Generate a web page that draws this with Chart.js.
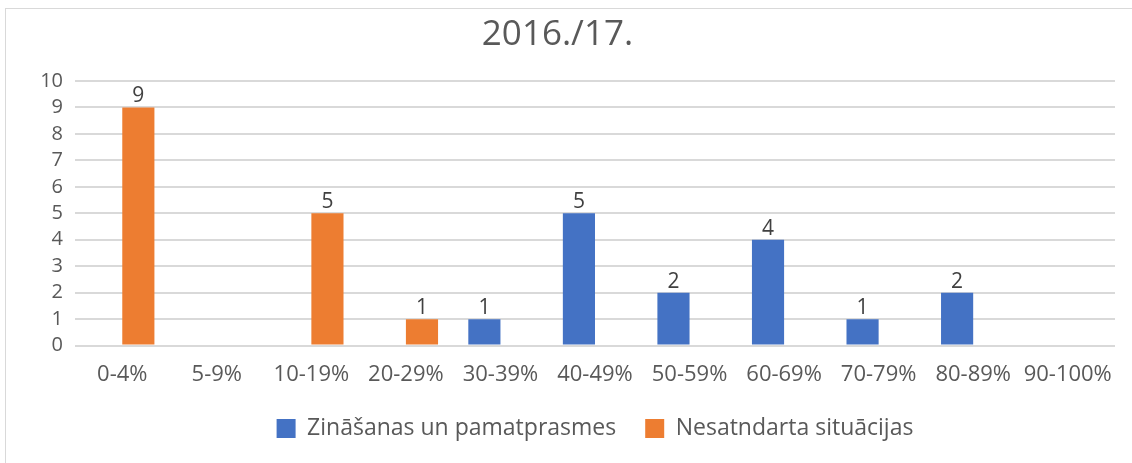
<!DOCTYPE html>
<html>
<head>
<meta charset="utf-8">
<script src="https://cdn.jsdelivr.net/npm/chart.js@4"></script>
<style>
  html, body { margin: 0; padding: 0; background: #fff; }
  .frame {
    position: absolute; left: 5px; top: 8px; width: 1140px; height: 470px;
    border-left: 1px solid #d9d9d9; border-top: 1px solid #d9d9d9;
  }
  .wrap { position: absolute; left: 0; top: 0; width: 1132px; height: 463px; }
</style>
</head>
<body>
<div class="frame"></div>
<div class="wrap"><canvas id="chart"></canvas></div>
<script>
// ranges of the result
const categories = ['0-4%', '5-9%', '10-19%', '20-29%', '30-39%', '40-49%',
  '50-59%', '60-69%', '70-79%', '80-89%', '90-100%'];

const basicsValues = [0, 0, 0, 0, 1, 5, 2, 4, 1, 2, 0];       // Zināšanas un pamatprasmes
const nonStandardValues = [9, 0, 5, 1, 0, 0, 0, 0, 0, 0, 0];  // Nesatndarta situācijas

const yTicks = [0, 1, 2, 3, 4, 5, 6, 7, 8, 9, 10];

const textGrey = '#595959';
const fontFamily = "'Open Sans', sans-serif";

// value labels above each non-zero bar
const barLabels = {
  id: 'barLabels',
  afterDatasetsDraw(chart) {
    const { ctx } = chart;
    ctx.save();
    ctx.font = `21px ${fontFamily}`;
    ctx.fillStyle = '#404040';
    ctx.textAlign = 'center';
    ctx.textBaseline = 'alphabetic';
    chart.data.datasets.forEach((ds, i) => {
      chart.getDatasetMeta(i).data.forEach((bar, j) => {
        const v = ds.data[j];
        if (!v) return;
        ctx.fillText(String(v), bar.x, bar.y - 5);
      });
    });
    ctx.restore();
  }
};

new Chart(document.getElementById('chart'), {
  type: 'bar',
  data: {
    labels: categories,
    datasets: [
      {
        label: 'Zināšanas un pamatprasmes',
        data: basicsValues,
        backgroundColor: '#4472C4',
        categoryPercentage: 0.68,
        barPercentage: 1,
      },
      {
        label: 'Nesatndarta situācijas',
        data: nonStandardValues,
        backgroundColor: '#ED7D31',
        categoryPercentage: 0.68,
        barPercentage: 1,
      },
    ],
  },
  options: {
    responsive: true,
    maintainAspectRatio: false,
    animation: false,
    layout: { padding: { left: 0, right: 17, top: 0, bottom: 13 } },
    plugins: {
      title: {
        display: true,
        text: '2016./17.',
        color: textGrey,
        font: { family: fontFamily, size: 35, weight: 'normal', lineHeight: 1.2 },
        padding: { top: 14, bottom: 25 },
      },
      legend: {
        position: 'bottom',
        fullSize: false,
        labels: {
          color: textGrey,
          font: { family: fontFamily, size: 23 },
          boxWidth: 19,
          boxHeight: 19,
          padding: 29,
        },
      },
      tooltip: { enabled: false },
    },
    scales: {
      x: {
        afterFit: (scale) => { scale.height = scale.height - 16; },
        grid: { display: false, drawTicks: false },
        border: { display: false },
        ticks: {
          color: textGrey,
          font: { family: fontFamily, size: 22, lineHeight: 1.2 },
          padding: 16,
          maxRotation: 0,
          autoSkip: false,
        },
      },
      y: {
        min: 0,
        max: 10,
        afterFit: (scale) => { scale.width = 75; },
        afterBuildTicks: (scale) => { scale.ticks = yTicks.map(v => ({ value: v })); },
        grid: { color: '#d9d9d9', lineWidth: 2, drawTicks: false },
        border: { display: false },
        ticks: {
          color: textGrey,
          font: { family: fontFamily, size: 20 },
          padding: 12,
          autoSkip: false,
        },
      },
    },
  },
  plugins: [barLabels],
});
</script>
</body>
</html>
